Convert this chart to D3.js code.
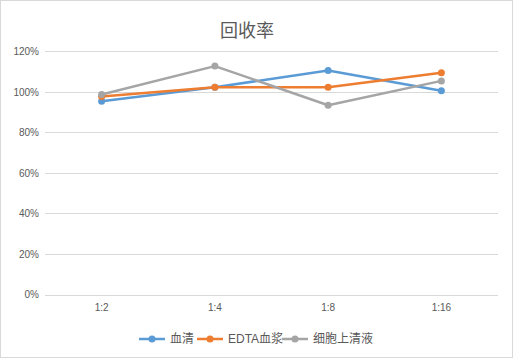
<!DOCTYPE html>
<html><head><meta charset="utf-8">
<script src="https://cdnjs.cloudflare.com/ajax/libs/d3/7.8.5/d3.min.js"></script>
<style>body{margin:0;background:#fff}svg{display:block}</style>
</head><body><div id="chart"></div>
<script>
const categories = ["1:2","1:4","1:8","1:16"];
const seriesNames = ["血清","EDTA血浆","细胞上清液"];
const serum = [0.953, 1.023, 1.105, 1.005];
const edta = [0.977, 1.023, 1.023, 1.094];
const cell = [0.987, 1.127, 0.934, 1.054];
const yTicks = [0,0.2,0.4,0.6,0.8,1.0,1.2];
const colors = ["#5b9bd5","#ed7d31","#a5a5a5"];
const series = [serum, edta, cell];

const W=513,H=358;
const svg=d3.select("#chart").append("svg").attr("width",W).attr("height",H);
svg.append("rect").attr("x",0.5).attr("y",0.5).attr("width",W-1).attr("height",H-1).attr("fill","#fff").attr("stroke","#d9d9d9");
const font="'Liberation Sans','Noto Sans CJK SC',sans-serif";
svg.append("text").attr("x",247).attr("y",37).attr("text-anchor","middle").attr("font-family","'Noto Sans CJK SC',sans-serif").attr("font-size",18).attr("fill","#595959").text("回收率");

const x=d3.scaleBand().domain(categories).range([45,498]);
const y=d3.scaleLinear().domain([0,1.2]).range([294.5,51.3]);

const grid=svg.append("g");
grid.selectAll("line").data(yTicks).join("line").attr("x1",45).attr("x2",498).attr("y1",d=>Math.round(y(d))+0.5).attr("y2",d=>Math.round(y(d))+0.5).attr("stroke","#d9d9d9").attr("stroke-width",1);

const yAxis=svg.append("g").attr("transform","translate(45,0)").call(d3.axisLeft(y).tickValues(yTicks).tickFormat(d3.format(".0%")).tickSize(0).tickPadding(6));
yAxis.select(".domain").remove();
yAxis.selectAll("text").attr("font-family",font).attr("font-size",10).attr("fill","#595959");

const xAxis=svg.append("g").attr("transform","translate(0,294.5)").call(d3.axisBottom(x).tickSize(0).tickPadding(9));
xAxis.select(".domain").remove();
xAxis.selectAll("text").attr("font-family",font).attr("font-size",10).attr("fill","#595959");

const line=d3.line().x((d,i)=>x(categories[i])+x.bandwidth()/2).y(d=>y(d));
series.forEach((s,k)=>{
  svg.append("path").datum(s).attr("d",line).attr("fill","none").attr("stroke",colors[k]).attr("stroke-width",2.5).attr("stroke-linejoin","round").attr("stroke-linecap","round");
  svg.append("g").selectAll("circle").data(s).join("circle").attr("cx",(d,i)=>x(categories[i])+x.bandwidth()/2).attr("cy",d=>y(d)).attr("r",3.5).attr("fill",colors[k]);
});

const legX=[139,197,282];
const lg=svg.append("g");
seriesNames.forEach((n,k)=>{
  const g=lg.append("g").attr("transform",`translate(${legX[k]},339)`);
  g.append("line").attr("x1",0).attr("x2",26).attr("y1",0).attr("y2",0).attr("stroke",colors[k]).attr("stroke-width",2.5);
  g.append("circle").attr("cx",13).attr("cy",0).attr("r",3.5).attr("fill",colors[k]);
  g.append("text").attr("x",31).attr("y",4).attr("font-family",font).attr("font-size",12).attr("fill","#595959").text(n);
});
</script></body></html>
